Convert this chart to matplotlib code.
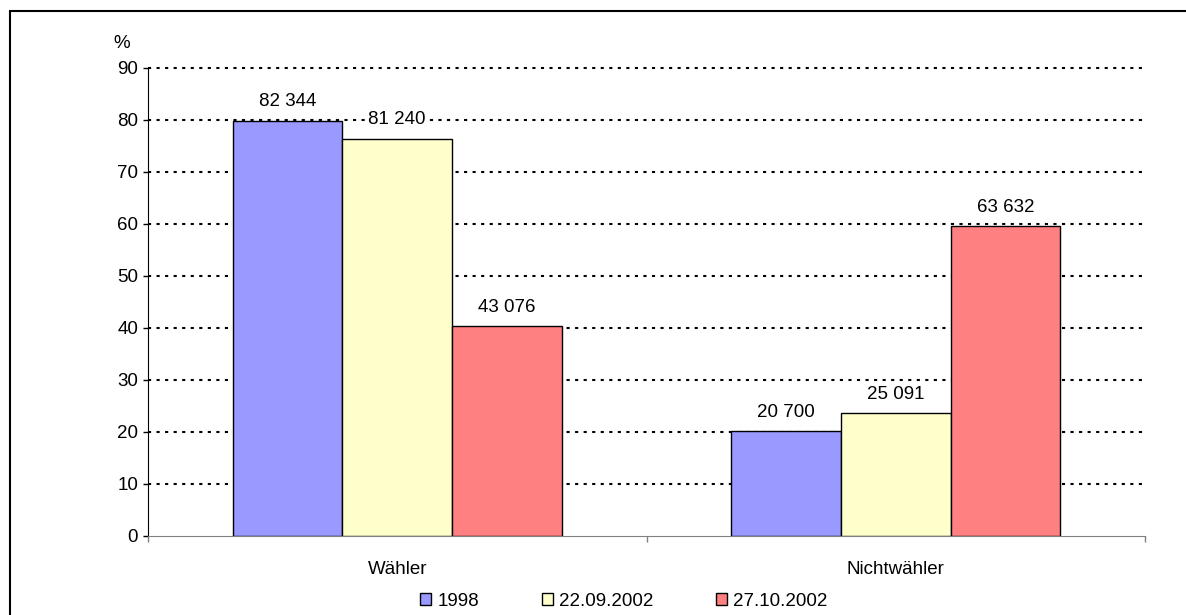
import matplotlib
matplotlib.use("Agg")
import matplotlib.pyplot as plt
from matplotlib.patches import Rectangle, Patch
import numpy as np

plt.rcParams['font.family'] = ['Liberation Sans', 'DejaVu Sans']

categories = ["Wähler", "Nichtwähler"]
series_names = ["1998", "22.09.2002", "27.10.2002"]
values_1998 = [79.9, 20.1]
values_2002a = [76.4, 23.6]
values_2002b = [40.4, 59.6]
labels_1998 = ["82 344", "20 700"]
labels_2002a = ["81 240", "25 091"]
labels_2002b = ["43 076", "63 632"]
yticks = [0, 10, 20, 30, 40, 50, 60, 70, 80, 90]

colors = ["#9999FF", "#FFFFCC", "#FF8080"]

W, H = 1186, 615
FS = 13.5
fig = plt.figure(figsize=(W/100, H/100), dpi=100)
fig.patch.set_facecolor("white")

# outer frame
fig.patches.append(Rectangle((10/W, -0.1), 1.2, (H-11)/H + 0.1, transform=fig.transFigure,
                             fill=False, edgecolor="black", linewidth=1.5))

ax = fig.add_axes([148/W, (H-536)/H, 997/W, 468/H])
x = np.arange(len(categories))
bw = 0.22
series = [values_1998, values_2002a, values_2002b]
labels = [labels_1998, labels_2002a, labels_2002b]
for i, (vals, labs) in enumerate(zip(series, labels)):
    pos = x + (i - 1) * bw
    ax.bar(pos, vals, width=bw, color=colors[i], edgecolor="black", linewidth=1.0,
           zorder=3, label=series_names[i])
    for p, v, t in zip(pos, vals, labs):
        ax.text(p, v + 3.6, t, ha="center", va="center", fontsize=FS, zorder=4,
                bbox=dict(facecolor="white", edgecolor="none", pad=1.5))

ax.set_xlim(-0.5, 1.5)
ax.set_ylim(0, 90)
ax.set_yticks(yticks)
ax.tick_params(axis="y", labelsize=FS, length=3.6, width=1, direction="out", pad=3.5)
ax.set_xticks(x)
ax.set_xticklabels(categories)
ax.tick_params(axis="x", which="major", length=0, labelsize=FS, pad=18)
ax.set_xticks([-0.5, 0.5, 1.5], minor=True)
ax.tick_params(axis="x", which="minor", length=4, width=1, color="#808080")

for yv in yticks[1:]:
    ax.axhline(yv, color="black", linewidth=1.5, linestyle=(0, (1.5, 2.6)), zorder=1,
               clip_on=False)

ax.spines["top"].set_visible(False)
ax.spines["right"].set_visible(False)
ax.spines["bottom"].set_color("#808080")
ax.spines["left"].set_color("black")

fig.text(122/W, 1 - 43/H, "%", fontsize=FS, ha="center", va="center")

handles = [Patch(facecolor=c, edgecolor="black", linewidth=1.0) for c in colors]
fig.legend(handles, series_names, loc="center", bbox_to_anchor=(624/W, 1 - 601/H),
           ncol=3, frameon=False, fontsize=FS, handlelength=0.6, handleheight=0.6,
           handletextpad=0.35, columnspacing=3.3, borderpad=0, borderaxespad=0)

fig.savefig("out.png", dpi=100, facecolor="white")
